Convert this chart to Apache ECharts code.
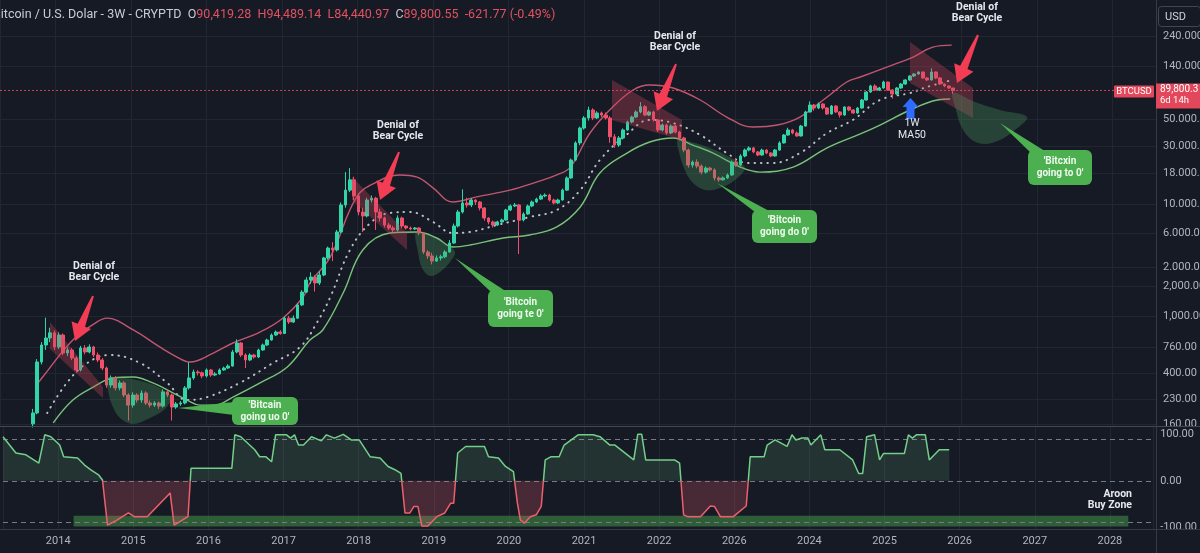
<!DOCTYPE html>
<html><head><meta charset="utf-8">
<script src="https://cdn.jsdelivr.net/npm/echarts@6/dist/echarts.min.js"></script>
<style>html,body{margin:0;padding:0;background:#161a25;overflow:hidden}#c{width:1200px;height:553px}</style>
</head><body><div id="c"></div>
<script>
// ---------- DATA ----------
const candleStart = 2013.70;          // year of first 3W candle
const candleStep = 3 / 52.18;         // 3 weeks in years
const firstOpen = 150;
const closes = [
 185,492,681,779,860,656,825,584,619,531,
 422,643,596,656,562,511,438,316,362,299,
 329,261,215,261,237,271,224,215,224,211,
 277,261,207,220,224,299,362,406,400,376,
 422,383,391,422,438,455,596,708,562,511,
 562,541,619,681,750,825,874,850,1140,1060,
 1140,1470,1880,2370,2510,2240,2610,3620,4380,4220,
 5960,10000,13300,16200,11900,8740,8100,11000,11400,8740,
 7790,6810,6430,6190,7790,6680,6430,6310,6430,5840,
 4060,3760,3410,3620,3700,4060,4820,6680,8740,10400,
 10000,11000,10600,9440,7790,7220,6810,7220,7500,9090,
 9810,10000,7500,8410,9810,10600,11200,11900,12100,11000,
 10400,11000,13300,16800,23700,32900,43800,53100,61900,53100,
 58400,56200,53100,37000,31600,36200,42200,49200,54100,59600,
 66000,56200,59600,51100,42200,46400,39800,45500,40600,36200,
 28700,21500,22800,21100,18800,20300,19600,16800,16200,16800,
 17800,22800,21500,25600,28700,29900,27700,26100,28700,27100,
 25600,28700,32900,38300,42200,39800,37600,45500,59600,68100,
 64300,69500,64300,57300,66800,59600,56200,65600,61900,58400,
 64300,75000,87400,98100,90900,94400,105900,90900,84100,94400,
 101900,110100,118900,123500,128300,114400,110100,128300,114400,101900,
 98100,94400,89800
];
const lows = [
 140,180,470,620,720,620,630,560,550,510,
 400,410,570,580,540,490,420,300,300,285,
 285,250,160,205,225,225,215,205,208,200,
 205,250,160,200,212,218,290,350,380,360,
 365,370,375,385,415,430,450,580,540,438,
 500,525,530,610,670,740,810,830,840,1020,
 1040,1120,1440,1850,2200,1900,2150,2550,3500,3400,
 4100,5800,9500,12800,11000,8200,5960,7900,10500,6190,
 7300,6500,6200,5900,6000,6400,6250,6150,6200,5600,
 3900,3550,3200,3350,3450,3600,4000,4750,6500,8500,
 9500,9600,10000,9000,7400,6900,6500,6700,7100,7400,
 8900,9600,3900,7300,8300,9600,10400,11000,11600,10700,
 10100,10200,10900,13100,16500,23200,31500,42500,50500,51000,
 52000,54000,51500,33000,30000,30500,35500,41500,48000,53000,
 58000,55000,55000,49500,40500,41000,38500,39000,39500,34500,
 27500,20500,20500,20200,18000,18300,19000,16000,15600,16000,
 16500,17500,20800,21000,25000,28000,27000,25500,25800,26500,
 25000,25300,28300,32500,37800,38800,37000,37200,45000,59000,
 61000,63000,62500,56500,56800,58500,53500,55500,60500,57500,
 57500,63500,74000,86000,89500,89000,93000,89500,77000,83000,
 93000,100500,108000,116500,121500,112500,108000,109000,112000,100000,
 96000,93000,84400
];
const highs = [
 200,520,720,1150,950,900,870,850,650,640,
 550,670,680,690,670,590,530,450,380,375,
 345,340,270,275,270,285,280,235,232,230,
 290,290,268,228,232,310,490,425,420,410,
 435,430,405,435,450,470,620,760,720,580,
 580,575,635,700,770,850,900,905,1180,1190,
 1200,1520,1950,2500,2750,2600,2800,3700,4500,4900,
 6200,10500,18800,20300,17200,12500,9500,11500,12000,11700,
 9300,8000,7100,6700,8200,8000,6800,6600,6550,6500,
 5900,4200,4000,3800,3850,4200,5100,7000,9100,13500,
 11500,11400,11200,10800,9600,7900,7400,7400,7700,9300,
 10100,10400,10200,8700,10100,10900,11500,12300,12500,12400,
 11300,11300,13700,17300,24400,34000,45000,55000,66000,64000,
 60500,60000,59000,55000,39000,37500,43500,50500,55500,61500,
 72000,68000,61000,61000,52000,47800,47500,47000,46500,41500,
 37000,29500,23500,24000,21800,21000,20800,20200,17300,17300,
 18300,23500,24500,26500,29500,30800,30500,28200,29500,29200,
 27600,29300,34000,39000,44000,43000,41000,46500,61000,73000,
 69500,71500,70500,65500,68000,68000,60500,66500,66500,63000,
 65500,76500,89000,100500,101500,96500,108500,106500,92000,96000,
 104000,111500,120500,125000,130000,129000,116000,138000,129500,116000,
 103000,99500,94500
];
const bandUpper = [[2013.77,329],[2013.83,369],[2014.23,750],[2014.55,1060],[2014.68,1140],[2015.03,909],[2015.38,656],[2015.61,541],[2015.78,492],[2016.09,584],[2016.35,708],[2016.71,874],[2017.01,1140],[2017.28,1710],[2017.37,2240],[2017.64,3690],[2017.99,11700],[2018.26,15600],[2018.56,17800],[2018.79,17100],[2019.00,13900],[2019.26,10600],[2019.58,11700],[2020.02,13300],[2020.38,15600],[2020.64,17800],[2020.82,20700],[2021.08,39800],[2021.34,61900],[2021.65,90900],[2021.87,100000],[2022.18,94400],[2022.54,75000],[2022.89,54100],[2023.24,44700],[2023.56,46400],[2023.86,54100],[2024.22,79400],[2024.48,105900],[2024.66,116600],[2025.01,141000],[2025.36,171000],[2025.62,207000],[2025.87,215000]];
const bandMid = [[2013.89,185],[2014.15,329],[2014.42,482],[2014.72,562],[2015.12,482],[2015.48,329],[2015.74,237],[2016.01,251],[2016.44,329],[2016.88,482],[2017.24,656],[2017.46,1040],[2017.64,1710],[2017.90,4220],[2018.17,7080],[2018.43,8580],[2018.70,8740],[2019.00,7220],[2019.26,5840],[2019.49,5960],[2019.85,6810],[2020.28,7940],[2020.64,9090],[2020.95,13300],[2021.21,23700],[2021.56,38300],[2021.87,51100],[2022.18,48200],[2022.54,38300],[2022.89,27100],[2023.16,22400],[2023.50,22400],[2023.86,27100],[2024.22,39800],[2024.56,51100],[2024.92,75000],[2025.32,85800],[2025.54,96200],[2025.88,110000]];
const bandLower = [[2013.97,153],[2014.23,237],[2014.50,304],[2014.76,362],[2015.03,369],[2015.29,329],[2015.56,271],[2015.74,237],[2015.91,215],[2016.11,215],[2016.35,251],[2016.71,329],[2017.07,447],[2017.37,750],[2017.54,909],[2017.81,1850],[2018.07,4220],[2018.43,5840],[2018.79,5960],[2019.05,5310],[2019.26,4470],[2019.49,4640],[2019.93,5310],[2020.28,5620],[2020.64,6560],[2020.95,9620],[2021.21,18500],[2021.57,27100],[2021.87,33500],[2022.18,36200],[2022.44,31600],[2022.71,27100],[2023.07,20700],[2023.33,18800],[2023.77,20700],[2024.22,29900],[2024.66,39100],[2024.92,46400],[2025.32,61900],[2025.68,75000],[2025.85,76400]];
const aroonYears = [2013.265,2013.437,2013.570,2013.742,2013.821,2013.901,2014.020,2014.073,2014.258,2014.351,2014.430,2014.536,2014.589,2014.656,2014.788,2014.934,2015.013,2015.185,2015.490,2015.543,2015.728,2015.768,2016.311,2016.351,2016.430,2016.616,2016.682,2016.762,2016.841,2016.894,2017.040,2017.093,2017.146,2017.199,2017.265,2017.371,2017.503,2017.570,2017.676,2017.795,2017.901,2018.007,2018.152,2018.285,2018.391,2018.483,2018.563,2018.616,2018.682,2018.735,2018.788,2018.841,2018.921,2019.040,2019.146,2019.225,2019.265,2019.318,2019.424,2019.675,2019.728,2019.861,2019.954,2020.060,2020.113,2020.152,2020.205,2020.285,2020.364,2020.430,2020.483,2020.563,2020.669,2020.735,2020.921,2021.119,2021.212,2021.344,2021.411,2021.662,2021.715,2021.768,2021.821,2022.205,2022.272,2022.325,2022.377,2022.550,2022.682,2022.735,2022.815,2022.987,2023.159,2023.212,2023.397,2023.437,2023.543,2023.702,2023.768,2023.821,2023.901,2023.980,2024.020,2024.046,2024.152,2024.205,2024.404,2024.576,2024.656,2024.709,2024.762,2024.868,2024.934,2024.987,2025.265,2025.318,2025.371,2025.424,2025.543,2025.596,2025.728,2025.861];
const aroonValues = [95,60,56,38,99,95,77,52,49,34,24,13,2,-95,-84,-69,-77,-77,-26,-95,-77,27,27,99,95,67,52,52,41,99,99,92,99,77,77,95,86,99,92,100,88,88,52,49,31,24,16,-69,-69,-55,-55,-97,-97,-77,-69,-48,-48,60,74,74,52,49,31,20,-48,-84,-91,-77,-73,-55,45,52,52,77,99,99,95,77,77,45,100,100,45,45,38,-73,-77,-77,-54,-55,-77,-77,-54,52,52,77,88,74,99,88,92,92,77,81,99,67,67,45,16,16,95,99,45,59,59,99,92,99,99,45,67,67];
const aroonLevels = [90, 0, -90];
const buyZoneValues = [-98, -75];
const buyZoneYears = [2014.205, 2028.245];
const xTickYears = [2014,2015,2016,2017,2018,2019,2020,2021,2022,2023,2024,2025,2026,2027,2028];
const xTickLabels = ['2014','2015','2016','2017','2018','2019','2020','2021','2022','2026','2024','2025','2026','2027','2028'];
const yTickValues = [256000,144000,52100,31000,18500,10200,5840,3040,2110,1190,656,398,242,150];
const yTickLabels = ['240.000.00','140.000.00','50.000.00','30.000.00','18.000.00','10.000.00','6.000.00','2.000.00','2,000.00','1,000.00','760.00','400.00','230.00','160.00'];
const aroonTickValues = [100, 0, -100];
const aroonTickLabels = ['100.00', '0.00', '-100.00'];
const lastPrice = 89800;
const priceLabel = ['89,800.3', '6d 14h'];

// ---------- BUILD ----------
const candles = closes.map((c, i) => [candleStart + i * candleStep, i ? closes[i - 1] : firstOpen, c, lows[i], highs[i]]);
const aroon = aroonYears.map((y, i) => [y, aroonValues[i]]);
const FONT = 'Roboto, "Noto Sans", sans-serif';
const XMIN = 2013.265, XMAX = 2028.576;
const axisTxt = '#b2b5be';
const gridCol = '#222632';
const AR_MIN = -103.5, AR_MAX = 118;
const UP = '#30d6a8', DOWN = '#f0506a';

const chart = echarts.init(document.getElementById('c'), null, {renderer: 'canvas'});
const option = {
  backgroundColor: '#161a25',
  animation: false,
  textStyle: {fontFamily: FONT},
  grid: [
    {left: 0, right: 44, top: 0, height: 427},
    {left: 0, right: 44, top: 426, height: 103}
  ],
  xAxis: [
    {type: 'value', gridIndex: 0, min: XMIN, max: XMAX, splitNumber: 15,
     axisLabel: {show: false}, axisLine: {show: false}, axisTick: {show: false},
     splitLine: {show: true, lineStyle: {color: gridCol}}},
    {type: 'value', gridIndex: 1, min: XMIN, max: XMAX, splitNumber: 15,
     axisLine: {show: false}, axisTick: {show: false},
     splitLine: {show: true, lineStyle: {color: gridCol}},
     axisLabel: {color: axisTxt, fontSize: 11, margin: 7, fontFamily: FONT,
       formatter: v => { const r = Math.round(v); if (Math.abs(v - r) > 1e-6) return ''; const k = xTickYears.indexOf(r); return k >= 0 ? xTickLabels[k] : ''; }}}
  ],
  yAxis: [
    {type: 'log', gridIndex: 0, min: 141.25, max: 510900, position: 'right',
     axisLabel: {show: false}, axisLine: {show: false}, axisTick: {show: false}, splitLine: {show: false}},
    {type: 'value', gridIndex: 1, min: AR_MIN, max: AR_MAX, position: 'right', splitNumber: 2,
     axisLine: {show: false}, axisTick: {show: false}, splitLine: {show: false},
     axisLabel: {color: axisTxt, fontSize: 11, margin: 7, fontFamily: FONT,
       formatter: v => { const r = Math.round(v); if (Math.abs(v - r) > 1e-6) return ''; const k = aroonTickValues.indexOf(r); return k >= 0 ? aroonTickLabels[k] : ''; }}}
  ],
  series: [
    {type: 'candlestick', xAxisIndex: 0, yAxisIndex: 0, z: 3,
     dimensions: ['t', 'open', 'close', 'lowest', 'highest'],
     encode: {x: 0, y: [1, 2, 3, 4]},
     data: candles, barWidth: 3.2,
     itemStyle: {color: UP, color0: DOWN, borderColor: UP, borderColor0: DOWN, borderWidth: 1},
     markLine: {silent: true, symbol: ['none', 'none'], z: 4, animation: false,
       label: {show: false},
       lineStyle: {color: '#d9485a', width: 1, type: [2, 2], opacity: 0.9},
       data: [{yAxis: lastPrice}]}
    },
    {type: 'line', xAxisIndex: 0, yAxisIndex: 0, data: bandUpper, smooth: 0.4, showSymbol: false, z: 2,
     lineStyle: {color: '#c0566f', width: 1.4},
     markLine: {silent: true, symbol: ['none', 'none'], z: 1, animation: false,
       lineStyle: {color: gridCol, width: 1, type: 'solid'},
       label: {show: true, position: 'end', distance: 7, color: axisTxt, fontSize: 11, fontFamily: FONT},
       emphasis: {disabled: true},
       data: yTickValues.map((v, i) => ({yAxis: v, label: {formatter: yTickLabels[i]}}))}
    },
    {type: 'line', xAxisIndex: 0, yAxisIndex: 0, data: bandMid, smooth: 0.4, showSymbol: false, z: 2,
     lineStyle: {color: '#dadde4', width: 2, type: [0.5, 6], cap: 'round', opacity: 0.85}},
    {type: 'line', xAxisIndex: 0, yAxisIndex: 0, data: bandLower, smooth: 0.4, showSymbol: false, z: 2,
     lineStyle: {color: '#78c27a', width: 1.4}},
    {type: 'line', xAxisIndex: 1, yAxisIndex: 1, data: aroon, showSymbol: false, z: 3,
     lineStyle: {width: 1.5, color: '#72cf88'},
     areaStyle: {origin: 0, color: 'rgba(114,207,136,0.2)'},
     markLine: {silent: true, symbol: ['none', 'none'], z: 2, animation: false,
       label: {show: false},
       lineStyle: {color: '#767a86', width: 1, type: [5, 4]},
       data: aroonLevels.map(v => ({yAxis: v}))},
     markArea: {silent: true, z: 1,
       itemStyle: {color: 'rgba(76,175,80,0.45)'},
       data: [[{xAxis: buyZoneYears[0], yAxis: buyZoneValues[0]}, {xAxis: buyZoneYears[1], yAxis: buyZoneValues[1]}]]}
    }
  ]
};
chart.setOption(option);

// two-colour Aroon (green above zero, red below) through a gradient split at the zero level
try {
  const yTop = chart.convertToPixel({yAxisIndex: 1}, AR_MAX);
  const yBot = chart.convertToPixel({yAxisIndex: 1}, AR_MIN);
  const yZero = chart.convertToPixel({yAxisIndex: 1}, 0);
  const f = (yZero - yTop) / (yBot - yTop);
  const grad = (a, b) => new echarts.graphic.LinearGradient(0, yTop, 0, yBot,
    [{offset: 0, color: a}, {offset: f, color: a}, {offset: f, color: b}, {offset: 1, color: b}], true);
  chart.setOption({series: [{}, {}, {}, {}, {
    lineStyle: {color: grad('#72cf88', '#ee5f6d')},
    areaStyle: {origin: 0, color: grad('rgba(114,207,136,0.20)', 'rgba(238,95,109,0.32)')}
  }]});
} catch (e) { console.log(e); }

// ---------- ANNOTATIONS ----------
function arrow(tx, ty, hx, hy, w0, w1, hw, hl) {
  const dx = hx - tx, dy = hy - ty, L = Math.hypot(dx, dy), ux = dx / L, uy = dy / L, nx = -uy, ny = ux;
  const bx = hx - ux * hl, by = hy - uy * hl;
  return [[tx + nx * w0 / 2, ty + ny * w0 / 2], [bx + nx * w1 / 2, by + ny * w1 / 2], [bx + nx * hw / 2, by + ny * hw / 2], [hx, hy],
          [bx - nx * hw / 2, by - ny * hw / 2], [bx - nx * w1 / 2, by - ny * w1 / 2], [tx - nx * w0 / 2, ty - ny * w0 / 2]];
}
const g = [];
g.push({type: 'line', z: 20, shape: {x1: 0, y1: 426.5, x2: 1200, y2: 426.5}, style: {stroke: '#434753', lineWidth: 1}});
g.push({type: 'line', z: 20, shape: {x1: 0, y1: 529.5, x2: 1200, y2: 529.5}, style: {stroke: '#363a46', lineWidth: 1}});
g.push({type: 'line', z: 20, shape: {x1: 1156.5, y1: 0, x2: 1156.5, y2: 553}, style: {stroke: '#363a46', lineWidth: 1}});
const wedgeFill = 'rgba(205,70,95,0.33)';
[[[50,322],[103,387],[103,398],[50,349]],
 [[352,177],[407,233],[407,250],[352,200]],
 [[612,80],[682,120],[682,140],[612,120]],
 [[910,42],[973,88],[973,118],[910,83]]].forEach(p => g.push({type: 'polygon', z: 10, shape: {points: p}, style: {fill: wedgeFill}}));
const blobFill = 'rgba(80,160,95,0.30)';
[[[107,378],[125,378],[145,382],[160,388],[171,397],[165,409],[150,418],[133,424],[120,418],[112,405],[108,390]],
 [[416,232],[430,236],[445,243],[455,252],[450,262],[440,272],[430,276],[422,268],[418,252]],
 [[678,140],[695,143],[715,150],[735,160],[745,168],[735,180],[720,188],[705,190],[692,182],[684,168],[679,152]],
 [[953,93],[975,102],[1000,110],[1027,117],[1015,130],[1000,140],[985,144],[972,140],[962,128],[956,110]]]
 .forEach(p => g.push({type: 'polygon', z: 10, shape: {points: p, smooth: 0.35}, style: {fill: blobFill}}));
const arrowFill = '#f23d55';
[[93,296,75,341],[399,152,380,200],[676,64,657,111],[978,35,957,83]]
 .forEach(a => g.push({type: 'polygon', z: 12, shape: {points: arrow(a[0], a[1], a[2], a[3], 2, 8, 21, 17)}, style: {fill: arrowFill}}));
[[94,272],[398,131],[675,42],[977,13]].forEach(t => g.push({type: 'text', z: 12, x: t[0], y: t[1],
  style: {text: 'Denial of\nBear Cycle', fill: '#e6e8ee', font: 'bold 10.5px ' + FONT, align: 'center', verticalAlign: 'middle', lineHeight: 11}}));
const callouts = [
  {box: [232,397,66,28], tail: [[234,402],[234,415],[178,408]], text: "'Bitcain\ngoing uo 0'"},
  {box: [488,290,65,37], tail: [[491,292],[507,292],[455,258]], text: "'Bitcoin\ngoing te 0'"},
  {box: [752,210,65,33], tail: [[755,212],[771,212],[717,183]], text: "'Bitcoin\ngoing do 0'"},
  {box: [1028,150,64,35], tail: [[1031,153],[1048,153],[1000,123]], text: "'Bitcxin\ngoing to 0'"}
];
callouts.forEach(c => {
  g.push({type: 'polygon', z: 13, shape: {points: c.tail}, style: {fill: '#4caf50'}});
  g.push({type: 'rect', z: 13, shape: {x: c.box[0], y: c.box[1], width: c.box[2], height: c.box[3], r: 6}, style: {fill: '#4caf50'}});
  g.push({type: 'text', z: 14, x: c.box[0] + c.box[2] / 2, y: c.box[1] + c.box[3] / 2,
    style: {text: c.text, fill: '#effaef', font: 'bold 10px ' + FONT, align: 'center', verticalAlign: 'middle', lineHeight: 12}});
});
g.push({type: 'polygon', z: 12, shape: {points: arrow(910.5, 119, 910.5, 98, 8, 8, 16, 9)}, style: {fill: '#2f6bff'}});
g.push({type: 'text', z: 12, x: 912, y: 129, style: {text: '1W\nMA50', fill: '#e6e8ee', font: '10.5px ' + FONT, align: 'center', verticalAlign: 'middle', lineHeight: 12}});
g.push({type: 'text', z: 12, x: 1132, y: 500, style: {text: 'Aroon\nBuy Zone', fill: '#e6e8ee', font: 'bold 10.5px ' + FONT, align: 'right', verticalAlign: 'middle', lineHeight: 11}});
g.push({type: 'text', z: 20, x: -7, y: 15, style: {
  text: '{w|Bitcoin / U.S. Dolar - 3W - CRYPTD  O}{r|90,419.28  H94,489.14  L84,440.97  }{w|C}{r|89,800.55  -621.77 (-0.49%)}',
  font: '12.5px ' + FONT, verticalAlign: 'middle',
  rich: {w: {fill: '#c9ccd4', fontSize: 12.5, fontFamily: FONT}, r: {fill: '#e0525f', fontSize: 12.5, fontFamily: FONT}}}});
g.push({type: 'rect', z: 20, shape: {x: 1158.5, y: 6.5, width: 42, height: 20, r: 3}, style: {fill: '#161a25', stroke: '#434651', lineWidth: 1}});
g.push({type: 'text', z: 21, x: 1165, y: 17, style: {text: 'USD', fill: '#d1d4dc', font: '11px ' + FONT, verticalAlign: 'middle'}});
let py = 90;
try { py = chart.convertToPixel({yAxisIndex: 0}, lastPrice); } catch (e) {}
g.push({type: 'rect', z: 20, shape: {x: 1114, y: py - 5, width: 40, height: 12, r: 1}, style: {fill: '#e2475b'}});
g.push({type: 'text', z: 21, x: 1134, y: py + 1, style: {text: 'BTCUSD', fill: '#ffffff', font: '9.5px ' + FONT, align: 'center', verticalAlign: 'middle'}});
g.push({type: 'rect', z: 20, shape: {x: 1156, y: py - 7, width: 44, height: 25}, style: {fill: '#e2475b'}});
g.push({type: 'text', z: 21, x: 1160, y: py - 1, style: {text: priceLabel[0], fill: '#ffffff', font: '10px ' + FONT, verticalAlign: 'middle'}});
g.push({type: 'text', z: 21, x: 1160, y: py + 10, style: {text: priceLabel[1], fill: '#ffffff', font: '9.5px ' + FONT, verticalAlign: 'middle'}});

chart.setOption({graphic: {elements: g}});
</script>
</body></html>
